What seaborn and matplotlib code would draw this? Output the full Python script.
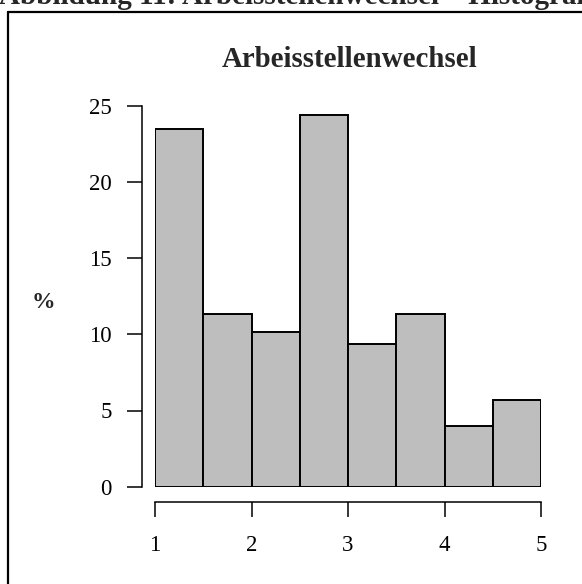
import matplotlib
matplotlib.use("Agg")
import matplotlib.pyplot as plt
from matplotlib.lines import Line2D
import numpy as np
import seaborn as sns

# values
bin_edges = [1.0, 1.5, 2.0, 2.5, 3.0, 3.5, 4.0, 4.5, 5.0]
percent = [23.47, 11.36, 10.16, 24.41, 9.37, 11.36, 3.99, 5.70]
x_ticks = [1, 2, 3, 4, 5]
y_ticks = [0, 5, 10, 15, 20, 25]
title = "Arbeisstellenwechsel"
caption = "Abbildung 11: Arbeisstellenwechsel \u2013 Histogramm"

sns.set_style("ticks")
plt.rcParams['font.family'] = ['Liberation Serif', 'DejaVu Serif']

W, H = 582, 584
fig = plt.figure(figsize=(W / 100, H / 100), dpi=100)
ax = fig.add_axes([155 / W, (H - 486.7) / H, 386 / W, 381 / H])

centers = (np.array(bin_edges[:-1]) + np.array(bin_edges[1:])) / 2
sns.histplot(x=centers, weights=percent, bins=bin_edges, stat="count",
             color="#bebebe", edgecolor="black", linewidth=1.4, alpha=1,
             ax=ax)

ax.set_xlim(1, 5)
ax.set_ylim(0, 25)
ax.set_xticks(x_ticks)
ax.set_yticks(y_ticks)
ax.set_xticklabels([str(t) for t in x_ticks])
ax.set_yticklabels([str(t) for t in y_ticks])

for s in ["top", "right"]:
    ax.spines[s].set_visible(False)
ax.spines["left"].set_position(("outward", 13 * 0.72))
ax.spines["bottom"].set_position(("outward", 15.3 * 0.72))
for s in ["left", "bottom"]:
    ax.spines[s].set_linewidth(1.1)
    ax.spines[s].set_color("black")

ax.tick_params(axis="both", colors="black", labelsize=16.5,
               length=15 * 0.72, width=1.1)
ax.tick_params(axis="y", pad=11)
ax.tick_params(axis="x", pad=13)

ax.set_xlabel("")
ax.set_ylabel("%", rotation=0, fontsize=17, fontweight="bold",
              ha="center", va="center")
ax.yaxis.set_label_coords((43 - 155) / 386, (486.7 - 303) / 381)

fig.text(350 / W, 1 - 67 / H, title, ha="center", va="baseline",
         fontsize=20.8, fontweight="bold")

# caption of the document, cut by the top edge
fig.text(-1 / W, 1 - 4 / H, caption, ha="left", va="baseline",
         fontsize=21, fontweight="bold")

# frame around the figure (only left and top are visible)
fig.add_artist(Line2D([7.5 / W, 7.5 / W], [0, 1 - 11.5 / H],
                      transform=fig.transFigure, color="black", linewidth=1.6))
fig.add_artist(Line2D([7.5 / W, 1], [1 - 11.5 / H, 1 - 11.5 / H],
                      transform=fig.transFigure, color="black", linewidth=1.6))

fig.savefig("out.png", dpi=100)
